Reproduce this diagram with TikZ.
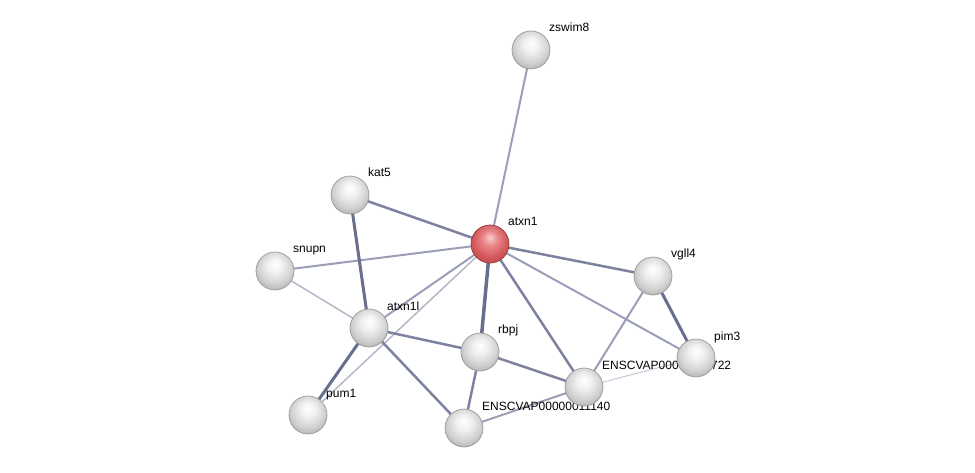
\documentclass[tikz,border=0pt]{standalone}
\usepackage{fontspec}
\setmainfont{Liberation Sans}
\pgfdeclarelayer{edges}
\pgfdeclarelayer{labels}
\pgfsetlayers{edges,labels,main}
\definecolor{rA}{RGB}{252,205,205}
\definecolor{rB}{RGB}{232,135,138}
\definecolor{rC}{RGB}{212,88,92}
\definecolor{rD}{RGB}{196,76,80}
\definecolor{rE}{RGB}{150,52,55}
\definecolor{rF}{RGB}{115,40,40}
\pgfdeclareradialshading{grayball}{\pgfpoint{0bp}{9bp}}{%
  color(0bp)=(white); color(10bp)=(white!94!black); color(22bp)=(white!82!black);
  color(30bp)=(white!70!black); color(36bp)=(white!55!black); color(50bp)=(white!45!black)}
\pgfdeclareradialshading{redball}{\pgfpoint{0bp}{9bp}}{%
  color(0bp)=(rA); color(10bp)=(rB); color(22bp)=(rC);
  color(30bp)=(rD); color(36bp)=(rE); color(50bp)=(rF)}
\begin{document}
\begin{tikzpicture}[x=1pt,y=-1pt,
  prot/.style={circle,minimum size=38pt,inner sep=0pt,shading=grayball,draw=gray!80,line width=0.7pt},
  hub/.style={circle,minimum size=38pt,inner sep=0pt,shading=redball,draw={rgb,255:red,140;green,60;blue,60},line width=0.7pt},
  lbl/.style={anchor=base west,font=\fontsize{12}{14}\selectfont,inner sep=0pt},
  edark/.style={draw={rgb,255:red,104;green,110;blue,140},line width=3pt},
  emed/.style={draw={rgb,255:red,124;green,130;blue,160},line width=2.5pt},
  elight/.style={draw={rgb,255:red,154;green,158;blue,182},line width=2pt},
  ethin/.style={draw={rgb,255:red,180;green,183;blue,200},line width=1.5pt},
  ethinner/.style={draw={rgb,255:red,196;green,199;blue,214},line width=1pt}]
\useasboundingbox (0,0) rectangle (975,473);
% nodes
\node[prot] (zswim8) at (531,50) {};
\node[prot] (kat5) at (350,195) {};
\node[hub] (atxn1) at (490,244) {};
\node[prot] (snupn) at (275,271) {};
\node[prot] (vgll4) at (653,276) {};
\node[prot] (atxn1l) at (369,328) {};
\node[prot] (rbpj) at (480,352) {};
\node[prot] (pim3) at (696,358) {};
\node[prot] (e722) at (584,387) {};
\node[prot] (pum1) at (308,415) {};
\node[prot] (e140) at (464,428) {};
% edges
\begin{pgfonlayer}{edges}
\draw[elight] (atxn1.center) -- (zswim8.center);
\draw[emed] (atxn1.center) -- (kat5.center);
\draw[elight] (atxn1.center) -- (snupn.center);
\draw[emed] (atxn1.center) -- (vgll4.center);
\draw[elight] (atxn1.center) -- (pim3.center);
\draw[emed] (atxn1.center) -- (e722.center);
\draw[edark,line width=3.5pt] (atxn1.center) -- (rbpj.center);
\draw[elight] (atxn1.center) -- (atxn1l.center);
\draw[ethin] (atxn1.center) -- (pum1.center);
\draw[edark] (kat5.center) -- (atxn1l.center);
\draw[ethin] (snupn.center) -- (atxn1l.center);
\draw[edark] (atxn1l.center) -- (pum1.center);
\draw[emed] (atxn1l.center) -- (rbpj.center);
\draw[emed] (atxn1l.center) -- (e140.center);
\draw[emed] (rbpj.center) -- (e722.center);
\draw[emed] (rbpj.center) -- (e140.center);
\draw[elight] (e140.center) -- (e722.center);
\draw[ethinner] (e722.center) -- (pim3.center);
\draw[elight] (e722.center) -- (vgll4.center);
\draw[edark] (vgll4.center) -- (pim3.center);
\end{pgfonlayer}
% labels
\begin{pgfonlayer}{labels}
\node[lbl] (l-zswim8) at ([shift={(18,-18)}]zswim8.center) {zswim8};
\node[lbl] (l-kat5) at ([shift={(18,-18)}]kat5.center) {kat5};
\node[lbl] (l-atxn1) at ([shift={(18,-18)}]atxn1.center) {atxn1};
\node[lbl] (l-snupn) at ([shift={(18,-18)}]snupn.center) {snupn};
\node[lbl] (l-vgll4) at ([shift={(18,-18)}]vgll4.center) {vgll4};
\node[lbl] (l-atxn1l) at ([shift={(18,-18)}]atxn1l.center) {atxn1l};
\node[lbl] (l-rbpj) at ([shift={(18,-18)}]rbpj.center) {rbpj};
\node[lbl] (l-pim3) at ([shift={(18,-18)}]pim3.center) {pim3};
\node[lbl] (l-e722) at ([shift={(18,-18)}]e722.center) {ENSCVAP00000011722};
\node[lbl] (l-pum1) at ([shift={(18,-18)}]pum1.center) {pum1};
\node[lbl] (l-e140) at ([shift={(18,-18)}]e140.center) {ENSCVAP00000011140};
\end{pgfonlayer}
\end{tikzpicture}
\end{document}
